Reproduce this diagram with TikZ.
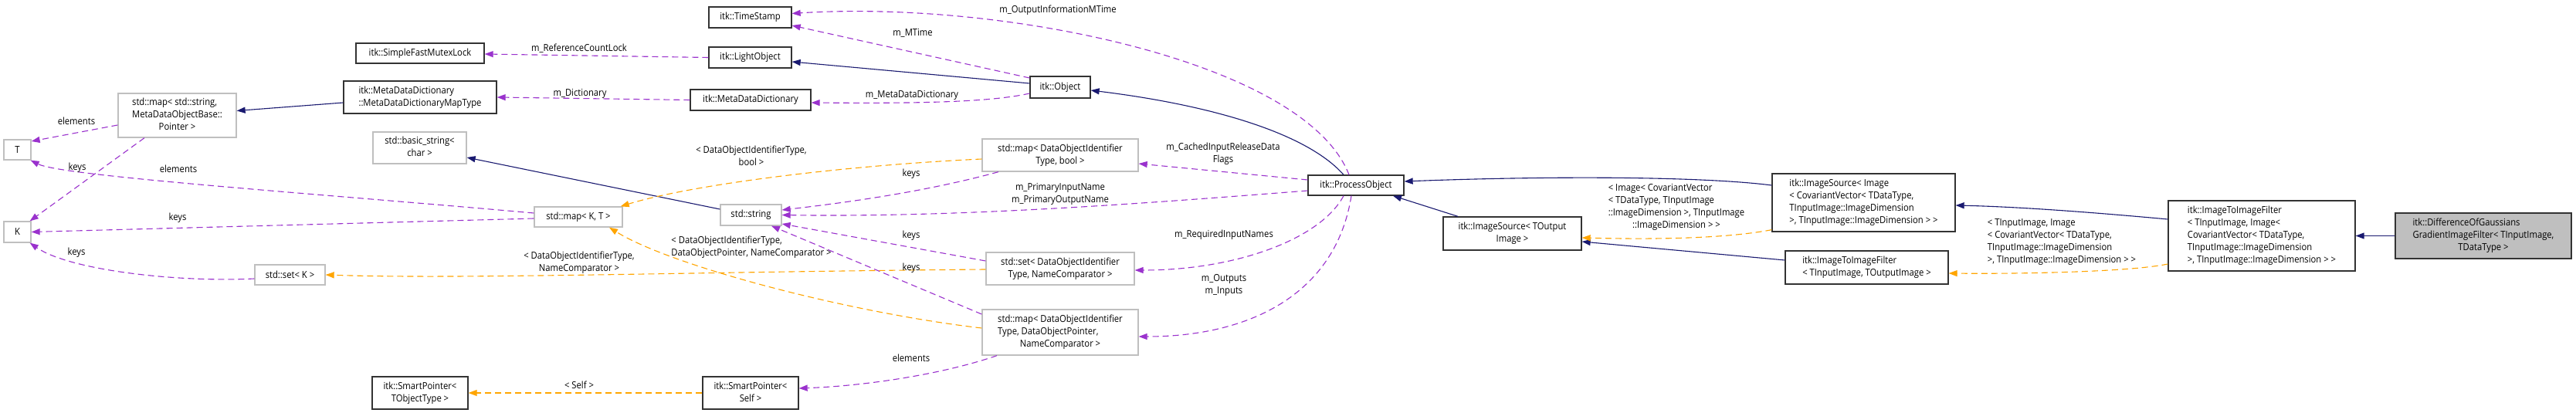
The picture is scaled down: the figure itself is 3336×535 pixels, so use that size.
\documentclass[tikz,border=0pt]{standalone}
\usepackage{fontspec}
\setmainfont{Open Sans}[FakeStretch=0.9]
\usetikzlibrary{arrows.meta,calc}
\definecolor{navy}{HTML}{191970}
\definecolor{orch}{HTML}{9A32CD}
\definecolor{orng}{HTML}{FFA500}
\definecolor{gbord}{HTML}{BFBFBF}
\definecolor{dfill}{HTML}{BFBFBF}
\newcommand\nfont{\fontsize{12.5}{16}\selectfont}
\newcommand\boxl[1]{\begin{tabular}{@{}l@{}}#1\end{tabular}}
\newcommand\boxc[1]{\begin{tabular}{@{}c@{}}#1\end{tabular}}
\newcommand\lastc[1]{\multicolumn{1}{@{}c@{}}{#1}}
\begin{document}
\begin{tikzpicture}[x=1pt,y=-1pt,
  base/.style={inner sep=0pt, font=\nfont, line width=1.3pt},
  cls/.style={base, draw=black!80, fill=white},
  ext/.style={base, draw=gbord, fill=white},
  lab/.style={inner sep=0pt, font=\nfont},
  sz/.style 2 args={minimum width=#1pt, minimum height=#2pt},
  inh/.style={draw=navy, line width=1.1pt, -{Triangle[length=11pt,width=8pt]}},
  use/.style={draw=orch, line width=1.1pt, dash pattern=on 8pt off 5pt, -{Triangle[length=11pt,width=8pt]}},
  tpl/.style={draw=orng, line width=1.1pt, dash pattern=on 8pt off 5pt, -{Triangle[length=11pt,width=8pt]}}]
\useasboundingbox (0,0) rectangle (3336,535);
\fill[white] (0,0) rectangle (3336,535);
% nodes
\node[cls,sz={107}{27}] (ts) at (971.5,22.5) {itk::TimeStamp};
\node[cls,sz={166}{26}] (sfml) at (544,69) {itk::SimpleFastMutexLock};
\node[cls,sz={107}{27}] (lo) at (971.5,74.5) {itk::LightObject};
\node[cls,sz={198}{42}] (mddmt) at (544,126) {\boxl{itk::MetaDataDictionary\\::MetaDataDictionaryMapType}};
\node[cls,sz={156}{27}] (mdd) at (972,129.5) {itk::MetaDataDictionary};
\node[cls,sz={78}{28}] (obj) at (1373,113) {itk::Object};
\node[ext,sz={153}{57}] (mapstr) at (229.5,149.5) {\boxl{std::map< std::string,\\MetaDataObjectBase::\\\lastc{Pointer >}}};
\node[ext,sz={35}{26}] (T) at (22.5,194) {T};
\node[ext,sz={35}{27}] (K) at (22.5,300.5) {K};
\node[ext,sz={121}{41}] (bstr) at (543.5,191.5) {\boxl{std::basic\_string<\\\lastc{char >}}};
\node[ext,sz={202}{42}] (mapbool) at (1373,201) {\boxl{std::map< DataObjectIdentifier\\\lastc{Type, bool >}}};
\node[cls,sz={124}{26}] (po) at (1756,240) {itk::ProcessObject};
\node[cls,sz={237}{75}] (isimg) at (2413.5,262.5) {\boxl{itk::ImageSource< Image\\< CovariantVector< TDataType,\\TInputImage::ImageDimension\\\lastc{>, TInputImage::ImageDimension > >}}};
\node[cls,sz={242}{91}] (i2ifimg) at (2929,305.5) {\boxl{itk::ImageToImageFilter\\< TInputImage, Image<\\CovariantVector< TDataType,\\TInputImage::ImageDimension\\\lastc{>, TInputImage::ImageDimension > >}}};
\node[ext,sz={79}{27}] (str) at (972.5,278.5) {std::string};
\node[ext,sz={114}{26}] (mapkt) at (749,281) {std::map< K, T >};
\node[cls,fill=dfill,sz={228}{59}] (dog) at (3216,305.5) {\boxl{itk::DifferenceOfGaussians\\GradientImageFilter< TInputImage,\\\lastc{TDataType >}}};
\node[cls,sz={179}{43}] (isout) at (1958.5,302.5) {\boxl{itk::ImageSource< TOutput\\\lastc{Image >}}};
\node[cls,sz={211}{43}] (i2ifout) at (2417.5,346.5) {\boxl{itk::ImageToImageFilter\\\lastc{< TInputImage, TOutputImage >}}};
\node[ext,sz={192}{42}] (setdoit) at (1373,348) {\boxl{std::set< DataObjectIdentifier\\\lastc{Type, NameComparator >}}};
\node[ext,sz={91}{26}] (setk) at (375.5,356) {std::set< K >};
\node[ext,sz={202}{59}] (mapdop) at (1373,430.5) {\boxl{std::map< DataObjectIdentifier\\Type, DataObjectPointer,\\\lastc{NameComparator >}}};
\node[cls,sz={124}{42}] (sptot) at (544,509) {\boxl{itk::SmartPointer<\\\lastc{TObjectType >}}};
\node[cls,sz={124}{42}] (spself) at (972,509) {\boxl{itk::SmartPointer<\\\lastc{Self >}}};
% inheritance
\draw[inh] ($(obj.west)+(0,-5)$) -- ($(lo.east)+(0,5.5)$);
\draw[inh] ($(mddmt.west)+(0,7)$) -- ($(mapstr.east)+(0,-6)$);
\draw[inh] ($(str.west)+(0,-7.5)$) -- ($(bstr.east)+(0,12.5)$);
\draw[inh] ($(po.north)+(-16,0)$) .. controls (1690,170) and (1560,135) .. ($(obj.east)+(0,4)$);
\draw[inh] ($(isout.north)+(-70.5,0)$) -- ($(po.south)+(48,0)$);
\draw[inh] ($(isimg.west)+(0,-22.5)$) .. controls (2200,228) and (2000,228) .. ($(po.east)+(0,-5)$);
\draw[inh] ($(i2ifout.west)+(0,-9.5)$) -- ($(isout.east)+(0,10.5)$);
\draw[inh] ($(i2ifimg.west)+(0,-21.5)$) .. controls (2720,276) and (2620,268) .. ($(isimg.east)+(0,3.5)$);
\draw[inh] (dog.west) -- (i2ifimg.east);
% usage
\draw[use] ($(po.north)+(-9,0)$) .. controls (1690,80) and (1300,0) .. ($(ts.east)+(0,-5)$);
\draw[use] ($(obj.west)+(0,-12)$) -- ($(ts.east)+(0,10.5)$);
\draw[use] (lo.west) -- ($(sfml.east)+(0,1)$);
\draw[use] (mdd.west) -- (mddmt.east);
\draw[use] ($(obj.west)+(0,8)$) .. controls (1280,133) and (1180,134) .. ($(mdd.east)+(0,3.5)$);
\draw[use] ($(mapstr.west)+(0,12.5)$) -- ($(T.east)+(0,-11)$);
\draw[use] ($(mapstr.south)+(-42.5,0)$) -- ($(K.north east)+(-2,0)$);
\draw[use] ($(mapkt.west)+(0,-5)$) .. controls (400,250) and (80,228) .. ($(T.south east)+(-1,0)$);
\draw[use] ($(mapkt.west)+(0,2)$) -- (K.east);
\draw[use] ($(setk.west)+(0,5)$) .. controls (230,366) and (90,350) .. ($(K.south east)+(-2,0)$);
\draw[use] ($(mapbool.south)+(-80,0)$) .. controls (1200,248) and (1100,262) .. ($(str.east)+(0,-6.5)$);
\draw[use] ($(po.west)+(0,7)$) .. controls (1500,262) and (1250,282) .. (str.east);
\draw[use] ($(po.west)+(0,-7)$) -- ($(mapbool.east)+(0,11)$);
\draw[use] ($(setdoit.west)+(0,-10)$) -- ($(str.east)+(0,11.5)$);
\draw[use] ($(po.south)+(-16,0)$) .. controls (1710,310) and (1600,350) .. ($(setdoit.east)+(0,2)$);
\draw[use] ($(po.south)+(-6,0)$) .. controls (1730,380) and (1620,436) .. ($(mapdop.east)+(0,5.5)$);
\draw[use] ($(mapdop.south)+(-82,0)$) .. controls (1220,485) and (1120,500) .. ($(spself.east)+(0,-6)$);
\draw[use] ($(mapdop.west)+(0,-23.5)$) -- ($(str.south)+(26.5,0)$);
% templates
\draw[tpl] ($(mapbool.west)+(0,5)$) .. controls (1100,214) and (900,238) .. ($(mapkt.north east)+(-3,0)$);
\draw[tpl] ($(mapdop.west)+(0,-5.5)$) .. controls (1100,405) and (870,345) .. ($(mapkt.south)+(40,0)$);
\draw[tpl] ($(setdoit.west)+(0,1)$) .. controls (900,352) and (600,362) .. (setk.east);
\draw[tpl] (spself.west) -- (sptot.east);
\draw[tpl] ($(isimg.south west)+(0,-3)$) .. controls (2230,310) and (2130,310) .. ($(isout.east)+(0,5.5)$);
\draw[tpl] ($(i2ifimg.west)+(0,36.5)$) .. controls (2760,352) and (2620,355) .. ($(i2ifout.east)+(0,7.5)$);
% labels
\node[lab] (l10) at (1370,13) {m\_OutputInformationMTime};
\node[lab] (l11) at (1182,43) {m\_MTime};
\node[lab] (l12) at (750,63) {m\_ReferenceCountLock};
\node[lab] (l13) at (751,121) {m\_Dictionary};
\node[lab] (l14) at (1181,123) {m\_MetaDataDictionary};
\node[lab] (l15) at (99,157) {elements};
\node[lab] (l16) at (100,217) {keys};
\node[lab] (l17) at (231,219) {elements};
\node[lab] (l18) at (230,282) {keys};
\node[lab] (l19) at (99,327) {keys};
\node[lab] (l20) at (1180,225) {keys};
\node[lab] (l21) at (1373,251) {\boxc{m\_PrimaryInputName\\m\_PrimaryOutputName}};
\node[lab] (l22) at (1584,199) {\boxc{m\_CachedInputReleaseData\\Flags}};
\node[lab] (l23) at (1180,305) {keys};
\node[lab] (l24) at (1585,304) {m\_RequiredInputNames};
\node[lab] (l25) at (1585,369) {\boxc{m\_Outputs\\m\_Inputs}};
\node[lab] (l26) at (1180,464) {elements};
\node[lab] (l27) at (1180,347) {keys};
\node[lab] (l28) at (973,203) {\boxl{< DataObjectIdentifierType,\\\lastc{bool >}}};
\node[lab] (l29) at (973,320) {\boxl{< DataObjectIdentifierType,\\\lastc{DataObjectPointer, NameComparator >}}};
\node[lab] (l30) at (750,340) {\boxl{< DataObjectIdentifierType,\\\lastc{NameComparator >}}};
\node[lab] (l31) at (750,499) {< Self >};
\node[lab] (l32) at (2171,268) {\boxl{< Image< CovariantVector\\< TDataType, TInputImage\\::ImageDimension >, TInputImage\\\lastc{::ImageDimension > >}}};
\node[lab] (l33) at (2670,313) {\boxl{< TInputImage, Image\\< CovariantVector< TDataType,\\TInputImage::ImageDimension\\\lastc{>, TInputImage::ImageDimension > >}}};
\end{tikzpicture}
\end{document}
